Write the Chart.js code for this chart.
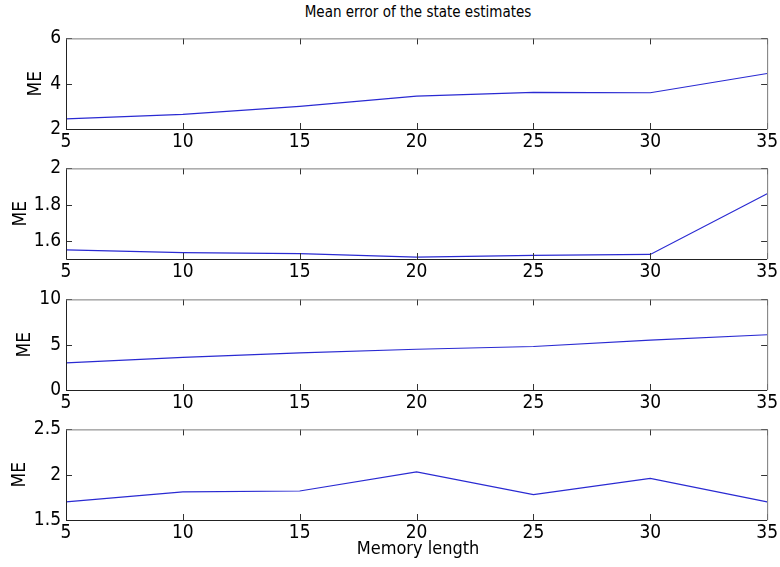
<!DOCTYPE html>
<html>
<head>
<meta charset="utf-8">
<script src="https://cdn.jsdelivr.net/npm/chart.js@4.4.1/dist/chart.umd.min.js"></script>
<style>
  html, body { margin: 0; padding: 0; background: #fff; }
  body { width: 780px; height: 567px; position: relative; overflow: hidden; }
  .panel { position: absolute; left: 0; width: 780px; height: 137px; }
  .txt { position: absolute; font-family: 'Liberation Sans Narrow', 'Arial Narrow', 'DejaVu Sans Condensed', sans-serif; color: #000; white-space: nowrap; transform: translateX(-50%); }
</style>
</head>
<body>
<div class="txt" id="title" style="left:418px; top:3px; font-size:15px;">Mean error of the state estimates</div>
<div class="panel" style="top:22px"><canvas id="c1"></canvas></div>
<div class="panel" style="top:152px"><canvas id="c2"></canvas></div>
<div class="panel" style="top:283px"><canvas id="c3"></canvas></div>
<div class="panel" style="top:413px"><canvas id="c4"></canvas></div>
<div class="txt" id="xlabel" style="left:418px; top:537px; font-size:18px;">Memory length</div>
<script>
  "use strict";

  // ── Data ──
  const memoryLength = [5, 10, 15, 20, 25, 30, 35];
  const xTicks = [5, 10, 15, 20, 25, 30, 35];

  const me1 = [2.45, 2.65, 3.0, 3.45, 3.62, 3.6, 4.45];
  const me2 = [1.55, 1.535, 1.53, 1.51, 1.52, 1.525, 1.86];
  const me3 = [3.0, 3.6, 4.1, 4.5, 4.8, 5.5, 6.1];
  const me4 = [1.70, 1.81, 1.82, 2.03, 1.78, 1.96, 1.70];

  const yTicks1 = [2, 4, 6];
  const yTicks2 = [1.6, 1.8, 2];
  const yTicks3 = [0, 5, 10];
  const yTicks4 = [1.5, 2, 2.5];

  const FONT = "'Liberation Sans Narrow', 'Arial Narrow', 'DejaVu Sans Condensed', sans-serif";

  // MATLAB-ish box with inward ticks on all four sides
  const boxPlugin = {
    id: 'matlabBox',
    afterDatasetsDraw(chart) {
      const { ctx, chartArea: a, scales } = chart;
      const tl = 6;
      ctx.save();
      ctx.lineWidth = 1;
      ctx.strokeStyle = '#333';
      ctx.beginPath();
      scales.x.ticks.forEach(t => {
        const px = Math.round(scales.x.getPixelForValue(t.value)) + 0.5;
        ctx.moveTo(px, a.bottom); ctx.lineTo(px, a.bottom - tl);
        ctx.moveTo(px, a.top); ctx.lineTo(px, a.top + tl);
      });
      scales.y.ticks.forEach(t => {
        const py = Math.round(scales.y.getPixelForValue(t.value)) + 0.5;
        ctx.moveTo(a.left, py); ctx.lineTo(a.left + tl, py);
        ctx.moveTo(a.right, py); ctx.lineTo(a.right - tl, py);
      });
      ctx.stroke();
      // left + bottom darker, top + right grey
      ctx.strokeStyle = '#222';
      ctx.beginPath();
      ctx.moveTo(a.left + 0.5, a.top); ctx.lineTo(a.left + 0.5, a.bottom + 0.5);
      ctx.lineTo(a.right, a.bottom + 0.5);
      ctx.stroke();
      ctx.strokeStyle = '#7a7a7a';
      ctx.beginPath();
      ctx.moveTo(a.left, a.top + 0.5); ctx.lineTo(a.right + 0.5, a.top + 0.5);
      ctx.lineTo(a.right + 0.5, a.bottom);
      ctx.stroke();
      ctx.restore();
    }
  };

  function makePanel(id, values, yTicks, titlePad) {
    new Chart(document.getElementById(id), {
      type: 'line',
      data: {
        datasets: [{
          data: memoryLength.map((x, i) => ({ x, y: values[i] })),
          borderColor: '#2a2ad2',
          borderWidth: 1.2,
          pointRadius: 0,
          tension: 0,
          fill: false,
        }]
      },
      options: {
        responsive: true,
        maintainAspectRatio: false,
        animation: false,
        events: [],
        layout: { padding: { top: 14, right: 10, left: 0, bottom: 0 } },
        plugins: { legend: { display: false }, tooltip: { enabled: false } },
        scales: {
          x: {
            type: 'linear',
            min: 5, max: 35,
            afterBuildTicks: s => { s.ticks = xTicks.map(v => ({ value: v })); },
            afterFit: s => { s.height = 30; },
            grid: { display: false, drawTicks: false },
            border: { display: false },
            ticks: { color: '#000', font: { family: FONT, size: 19 }, padding: 2, maxRotation: 0, autoSkip: false, callback: v => String(v) },
          },
          y: {
            min: yTicks2 === yTicks ? 1.5 : yTicks[0],
            max: yTicks[yTicks.length - 1],
            afterBuildTicks: s => { s.ticks = yTicks.map(v => ({ value: v })); },
            afterFit: s => { s.width = 66; },
            grid: { display: false, drawTicks: false },
            border: { display: false },
            ticks: { color: '#000', font: { family: FONT, size: 19 }, padding: 5, autoSkip: false, callback: v => String(v) },
            title: { display: true, text: 'ME', color: '#000', font: { family: FONT, size: 19 }, padding: { top: titlePad, bottom: 0 } },
          }
        }
      },
      plugins: [boxPlugin]
    });
  }

  makePanel('c1', me1, yTicks1, 25);
  makePanel('c2', me2, yTicks2, 10);
  makePanel('c3', me3, yTicks3, 14);
  makePanel('c4', me4, yTicks4, 9);
</script>
</body>
</html>
